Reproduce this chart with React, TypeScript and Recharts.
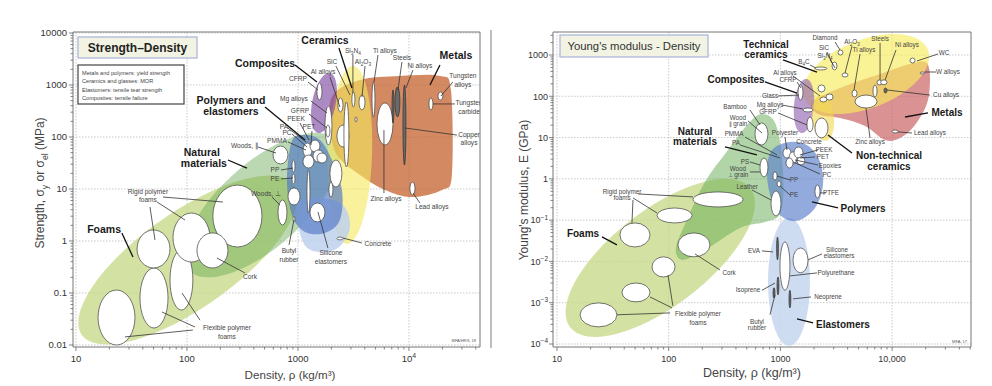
import React from 'react';
import { ScatterChart, Scatter, XAxis, YAxis, CartesianGrid, ReferenceLine } from 'recharts';

type Pt = [number, number];
type Envelope = { name: string; shape: 'ellipse' | 'blob'; pts: Pt[] };
type Bubble = { name: string; x: Pt; y: Pt };
type Label = { text: string; at: Pt };
type Seg = [number, number, number, number];

const FONT = '"Liberation Sans", Arial, Helvetica, sans-serif';

// ================= Strength – Density =================
const sdDecadesX = [10, 100, 1000, 10000];
const sdTickLabelsX = ['10', '100', '1000', '10^{4}'];
const sdDecadesY = [0.01, 0.1, 1, 10, 100, 1000, 10000];
const sdTickLabelsY = ['0.01', '0.1', '1', '10', '100', '1000', '10000'];
const sdRangeX: Pt = [9.4, 43650];
const sdRangeY: Pt = [0.00915, 10450];

const sdEnvelopes: Envelope[] = [
  { name: 'Foams', shape: 'ellipse', pts: [[102, 0.43], [920, 11.9], [57, 2.4]] },
  { name: 'Natural materials', shape: 'ellipse', pts: [[474, 4.9], [2150, 88], [265, 19.5]] },
  { name: 'Metals', shape: 'blob', pts: [[2066, 643], [3615, 1250], [8283, 1489], [19020, 1489], [23880, 802], [24380, 18.6], [19820, 9.57], [10640, 7.01], [6082, 9.57], [3615, 18.6], [2244, 45.1], [1941, 170]] },
  { name: 'Ceramics', shape: 'ellipse', pts: [[2938, 45.1], [3126, 2318], [4645, 45.1]] },
  { name: 'Composites', shape: 'ellipse', pts: [[1714, 451], [1901, 1702], [1337, 451]] },
  { name: 'Elastomers', shape: 'blob', pts: [[979, 4.92], [1514, 6.71], [2543, 4.92], [2938, 1.78], [2291, 0.733], [1514, 0.614], [1110, 0.957]] },
  { name: 'Polymers', shape: 'blob', pts: [[883, 83.8], [1157, 109], [1578, 87.5], [2024, 36.1], [2488, 9.57], [2388, 2.53], [1750, 1.43], [1157, 1.49], [883, 3.16], [796, 14.9]] },
];

const sdBubbles: Bubble[] = [
  { name: 'Flexible polymer foams', x: [15.8, 34], y: [0.01, 0.114] },
  { name: 'Flexible polymer foams', x: [37.7, 67.5], y: [0.0212, 0.303] },
  { name: 'Flexible polymer foams', x: [70.3, 113], y: [0.047, 0.67] },
  { name: 'Rigid polymer foams', x: [35.5, 70.3], y: [0.303, 1.63] },
  { name: 'Rigid polymer foams', x: [74.8, 161], y: [0.394, 3.45] },
  { name: 'Rigid polymer foams', x: [171, 474], y: [0.767, 11.9] },
  { name: 'Cork', x: [123, 234], y: [0.303, 1.43] },
  { name: 'Woods, parallel', x: [596, 813], y: [30.3, 67.1] },
  { name: 'Woods, perpendicular', x: [661, 796], y: [2.03, 6.14] },
  { name: 'PP', x: [883, 940], y: [21, 36] },
  { name: 'PE', x: [883, 940], y: [12.5, 19.5] },
  { name: 'PTFE', x: [813, 1043], y: [4.92, 10.5] },
  { name: 'Ionomers', x: [1206, 1283], y: [3.45, 23.2] },
  { name: 'Butyl rubber', x: [902, 940], y: [2.3, 3.0] },
  { name: 'Silicone elastomers', x: [1283, 1750], y: [2.32, 5.38] },
  { name: 'PMMA', x: [1110, 1337], y: [41.2, 76.7] },
  { name: 'PA', x: [1283, 1578], y: [51.5, 87.5] },
  { name: 'PET', x: [1365, 1714], y: [33, 56.2] },
  { name: 'PC', x: [1110, 1394], y: [25.3, 45.1] },
  { name: 'PEEK', x: [1483, 1824], y: [31.6, 49.2] },
  { name: 'Mg alloys', x: [1750, 2024], y: [70, 394] },
  { name: 'GFRP', x: [1787, 1941], y: [100, 170] },
  { name: 'CFRP', x: [1483, 1645], y: [515, 1092] },
  { name: 'Al alloys', x: [2291, 2543], y: [303, 562] },
  { name: 'Glass', x: [2244, 2877], y: [64, 170] },
  { name: 'Al alloys range', x: [2594, 2877], y: [26.5, 471] },
  { name: 'Si3N4', x: [3062, 3259], y: [377, 733] },
  { name: 'Al2O3', x: [3548, 4018], y: [331, 643] },
  { name: 'SiC', x: [3259, 3401], y: [194, 243] },
  { name: 'Stone', x: [1941, 2488], y: [10.9, 36.1] },
  { name: 'Brick', x: [1901, 2066], y: [7.0, 13.6] },
  { name: 'Concrete', x: [2244, 2543], y: [1.05, 1.19] },
  { name: 'Ti alloys', x: [4645, 4938], y: [243, 1143] },
  { name: 'Zinc alloys', x: [5152, 7180], y: [70.2, 451] },
  { name: 'Tungsten carbide', x: [15140, 16450], y: [331, 562] },
  { name: 'Tungsten alloys', x: [18240, 20240], y: [515, 733] },
  { name: 'Lead alloys', x: [10200, 11330], y: [7.67, 13.6] },
];
const sdDarkBubbles: Bubble[] = [
  { name: 'Steels', x: [7480, 8283], y: [243, 916] },
  { name: 'Cast irons', x: [7037, 7330], y: [186, 802] },
  { name: 'Copper alloys', x: [8830, 9397], y: [28.9, 1000] },
];

const sdGroupLabels: Label[] = [
  { text: 'Ceramics', at: [1750, 7330] },
  { text: 'Metals', at: [26490, 3780] },
  { text: 'Composites', at: [505, 2650] },
  { text: 'Polymers and', at: [249, 515] },
  { text: 'elastomers', at: [249, 316] },
  { text: 'Natural', at: [136, 51.5] },
  { text: 'materials', at: [142, 31.6] },
  { text: 'Foams', at: [17.9, 1.7] },
];
const sdSmallLabels: Label[] = [
  { text: 'Rigid polymer', at: [44.5, 8.75] },
  { text: 'foams', at: [44.5, 6.14] },
  { text: 'Flexible polymer', at: [229, 0.0212] },
  { text: 'foams', at: [229, 0.0143] },
  { text: 'Cork', at: [370, 0.203] },
  { text: 'Woods, ∥', at: [333, 67.1] },
  { text: 'Woods, ⊥', at: [515, 8.01] },
  { text: 'PP', at: [621, 23.2] },
  { text: 'PE', at: [621, 15.6] },
  { text: 'PMMA', at: [647, 83.8] },
  { text: 'PC', at: [796, 119] },
  { text: 'PA', at: [748, 156] },
  { text: 'PEEK', at: [960, 222] },
  { text: 'PET', at: [1256, 156] },
  { text: 'GFRP', at: [1043, 316] },
  { text: 'Mg alloys', at: [920, 538] },
  { text: 'CFRP', at: [1000, 1300] },
  { text: 'Al alloys', at: [1680, 1780] },
  { text: 'SiC', at: [2024, 2770] },
  { text: 'Si_{3}N_{4}', at: [3126, 4510] },
  { text: 'Al_{2}O_{3}', at: [3853, 2770] },
  { text: 'Ti alloys', at: [6070, 4510] },
  { text: 'Steels', at: [8646, 3300] },
  { text: 'Ni alloys', at: [12560, 2320] },
  { text: 'Tungsten', at: [30620, 1490] },
  { text: 'alloys', at: [30620, 1000] },
  { text: 'Tungsten', at: [34750, 451] },
  { text: 'carbide', at: [34750, 303] },
  { text: 'Copper', at: [34750, 109] },
  { text: 'alloys', at: [34750, 76.7] },
  { text: 'Zinc alloys', at: [6207, 6.42] },
  { text: 'Lead alloys', at: [16100, 4.51] },
  { text: 'Concrete', at: [5260, 0.876] },
  { text: 'Silicone', at: [1982, 0.587] },
  { text: 'elastomers', at: [1982, 0.394] },
  { text: 'Butyl', at: [830, 0.643] },
  { text: 'rubber', at: [830, 0.43] },
];
const sdGroupLeaders: Seg[] = [
  [2339, 5150, 3062, 875],
  [19020, 2430, 15460, 1000],
  [940, 2430, 1483, 1143],
  [505, 377, 1157, 87.5],
  [234, 36.1, 347, 25.3],
  [25.9, 1.43, 32.6, 0.492],
];
const sdSmallLeaders: Seg[] = [
  [60.8, 7.01, 211, 5.62],
  [53.7, 5.62, 96, 2.53],
  [46.4, 4.51, 51.5, 1.05],
  [113, 0.0194, 27.6, 0.0143],
  [118, 0.0222, 59.5, 0.0431],
  [131, 0.03, 90.2, 0.1],
  [333, 0.243, 186, 0.471],
  [436, 64.2, 634, 49.2],
  [583, 7.01, 689, 4.92],
  [703, 23.2, 902, 25.3],
  [703, 15.6, 902, 16.3],
  [813, 80.2, 1181, 56.2],
  [883, 114, 1206, 64.2],
  [813, 149, 1181, 80.2],
  [1043, 186, 1256, 87.5],
  [1337, 130, 1309, 70.2],
  [1256, 277, 1824, 149],
  [1309, 492, 1824, 290],
  [1231, 1143, 1514, 802],
  [1941, 1426, 2388, 377],
  [2198, 2320, 2938, 643],
  [3126, 3780, 3126, 702],
  [4018, 2320, 3773, 587],
  [5260, 3780, 4839, 1143],
  [8646, 2770, 7962, 802],
  [10860, 1940, 9397, 875],
  [24880, 1143, 19410, 614],
  [16450, 432, 25940, 432],
  [9188, 149, 27040, 109],
  [5951, 8.37, 5951, 136],
  [12560, 5.38, 10860, 8.37],
  [3773, 0.916, 2543, 1.14],
  [1862, 0.733, 1514, 3.61],
  [830, 0.84, 920, 2.53],
];
const sdNotes = [
  'Metals and polymers: yield strength',
  'Ceramics and glasses: MOR',
  'Elastomers: tensile tear strength',
  'Composites: tensile failure',
];

// ================= Young's modulus – Density =================
const ymDecadesX = [10, 100, 1000, 10000];
const ymTickLabelsX = ['10', '100', '1000', '10,000'];
const ymDecadesY = [0.0001, 0.001, 0.01, 0.1, 1, 10, 100, 1000];
const ymTickLabelsY = ['10^{−4}', '10^{−3}', '10^{−2}', '10^{−1}', '1', '10', '100', '1000'];
const ymRangeX: Pt = [9.21, 50860];
const ymRangeY: Pt = [0.0000846, 3605];

const ymEnvelopes: Envelope[] = [
  { name: 'Foams', shape: 'ellipse', pts: [[84, 0.0122], [534, 0.6], [45, 0.096]] },
  { name: 'Natural materials', shape: 'blob', pts: [[684, 37.3], [914, 20.2], [1055, 1.64], [1012, 0.158], [728, 0.0904], [435, 0.0647], [211, 0.019], [132, 0.0109], [116, 0.0212], [143, 0.0904], [211, 0.841], [340, 5.0], [513, 21.3]] },
  { name: 'Elastomers', shape: 'ellipse', pts: [[1194, 0.0032], [1194, 0.113], [1840, 0.0032]] },
  { name: 'Polymers', shape: 'blob', pts: [[841, 5.0], [1218, 7.8], [1767, 6.3], [2262, 2.6], [2406, 0.71], [2040, 0.197], [1408, 0.096], [991, 0.134], [807, 0.41], [759, 1.64]] },
  { name: 'Metals', shape: 'blob', pts: [[1919, 72.8], [3418, 159], [7801, 347], [17060, 677], [21400, 484], [20960, 81.4], [16030, 20.2], [11780, 9.8], [8649, 8.75], [5725, 19.1], [3418, 29.8], [2171, 37.3]] },
  { name: 'Technical ceramics', shape: 'ellipse', pts: [[5840, 347], [20960, 1320], [4560, 2065]] },
  { name: 'Composites', shape: 'ellipse', pts: [[1626, 58], [1695, 262], [2000, 58]] },
  { name: 'Non-technical ceramics', shape: 'ellipse', pts: [[2406, 29.8], [2307, 107], [3020, 29.8]] },
];

const ymBubbles: Bubble[] = [
  { name: 'Rigid polymer foams', x: [165, 463], y: [0.209, 0.482] },
  { name: 'Rigid polymer foams', x: [78.6, 162], y: [0.0855, 0.197] },
  { name: 'Rigid polymer foams', x: [36.6, 68], y: [0.0224, 0.0855] },
  { name: 'Cork', x: [121, 234], y: [0.0129, 0.049] },
  { name: 'Flexible polymer foams', x: [70.9, 114], y: [0.0042, 0.0129] },
  { name: 'Flexible polymer foams', x: [38.2, 68], y: [0.00105, 0.003] },
  { name: 'Flexible polymer foams', x: [16.1, 34.4], y: [0.00026, 0.00099] },
  { name: 'Bamboo', x: [592, 774], y: [6.6, 22.6] },
  { name: 'Wood perpendicular', x: [657, 774], y: [1.11, 3.2] },
  { name: 'Leather', x: [824, 1012], y: [0.126, 0.51] },
  { name: 'PP', x: [859, 933], y: [0.94, 1.47] },
  { name: 'PE', x: [933, 1012], y: [0.64, 0.89] },
  { name: 'PMMA', x: [1055, 1245], y: [3.2, 5.6] },
  { name: 'PA', x: [1194, 1408], y: [2.3, 4.5] },
  { name: 'PEEK', x: [1324, 1593], y: [3.2, 5.9] },
  { name: 'PC', x: [1122, 1297], y: [1.84, 3.2] },
  { name: 'PET', x: [1408, 1660], y: [2.17, 3.39] },
  { name: 'PTFE', x: [2040, 2262], y: [0.345, 0.71] },
  { name: 'CFRP', x: [1438, 1593], y: [81, 188] },
  { name: 'Mg alloys', x: [1593, 1959], y: [41.7, 52.1] },
  { name: 'GFRP', x: [1730, 1959], y: [13.7, 31.5] },
  { name: 'Concrete', x: [2040, 2668], y: [9.8, 29.8] },
  { name: 'Al alloys', x: [2262, 2612], y: [72.8, 96] },
  { name: 'Glass', x: [2560, 2960], y: [81, 114] },
  { name: 'B4C', x: [2040, 2612], y: [434, 512] },
  { name: 'Diamond', x: [3280, 3630], y: [1000, 1320] },
  { name: 'SiC', x: [2900, 3210], y: [434, 677] },
  { name: 'Al2O3', x: [3560, 4030], y: [293, 366] },
  { name: 'Si3N4', x: [2171, 2508], y: [127, 188] },
  { name: 'Ti alloys', x: [4375, 4853], y: [96, 142] },
  { name: 'Zinc alloys', x: [4658, 7326], y: [52, 107] },
  { name: 'Steels', x: [7326, 8100], y: [188, 248] },
  { name: 'Ni alloys', x: [7900, 9000], y: [190, 250] },
  { name: 'Cast irons', x: [6745, 7326], y: [96, 188] },
  { name: 'WC', x: [14460, 16030], y: [640, 846] },
  { name: 'W alloys', x: [17770, 19710], y: [347, 387] },
  { name: 'Lead alloys', x: [10000, 11300], y: [12.9, 15.3] },
  { name: 'Silicone elastomers', x: [1297, 1767], y: [0.0053, 0.0212] },
  { name: 'Polyurethane', x: [991, 1218], y: [0.002, 0.0297] },
];
const ymDarkBubbles: Bubble[] = [
  { name: 'Cu alloys', x: [8465, 9000], y: [120, 159] },
  { name: 'EVA', x: [925, 960], y: [0.0109, 0.039] },
  { name: 'Isoprene', x: [933, 970], y: [0.00155, 0.0042] },
  { name: 'Neoprene', x: [1194, 1240], y: [0.00075, 0.002] },
  { name: 'Butyl rubber', x: [859, 895], y: [0.0013, 0.0023] },
];

const ymGroupLabels: Label[] = [
  { text: 'Technical', at: [743, 1845] },
  { text: 'ceramics', at: [743, 1028] },
  { text: 'Composites', at: [401, 248] },
  { text: 'Natural', at: [172, 13.7] },
  { text: 'materials', at: [172, 7.82] },
  { text: 'Metals', at: [31030, 39.4] },
  { text: 'Non-technical', at: [9380, 3.58] },
  { text: 'ceramics', at: [9380, 2.0] },
  { text: 'Polymers', at: [5495, 0.187] },
  { text: 'Elastomers', at: [3633, 0.00029] },
  { text: 'Foams', at: [17.1, 0.0463] },
];
const ymSmallLabels: Label[] = [
  { text: 'Diamond', at: [2508, 2581] },
  { text: 'SiC', at: [2457, 1476] },
  { text: 'Si_{3}N_{4}', at: [2508, 946] },
  { text: 'B_{4}C', at: [1626, 677] },
  { text: 'Al_{2}O_{3}', at: [4375, 2065] },
  { text: 'Ti alloys', at: [5601, 1320] },
  { text: 'Steels', at: [7801, 2438] },
  { text: 'Ni alloys', at: [13590, 1746] },
  { text: 'WC', at: [29170, 1118] },
  { text: 'W alloys', at: [31640, 387] },
  { text: 'Cu alloys', at: [30400, 107] },
  { text: 'Lead alloys', at: [21830, 12.9] },
  { text: 'Zinc alloys', at: [6347, 7.82] },
  { text: 'Al alloys', at: [1099, 366] },
  { text: 'CFRP', at: [1169, 248] },
  { text: 'Glass', at: [807, 101] },
  { text: 'Mg alloys', at: [807, 61.6] },
  { text: 'GFRP', at: [774, 41.7] },
  { text: 'Bamboo', at: [392, 55.1] },
  { text: 'Wood', at: [417, 29.8] },
  { text: '∥ grain', at: [417, 21.3] },
  { text: 'PMMA', at: [385, 12.2] },
  { text: 'PA', at: [401, 7.4] },
  { text: 'Polyester', at: [1099, 12.9] },
  { text: 'Concrete', at: [1803, 7.82] },
  { text: 'PS', at: [482, 2.57] },
  { text: 'Wood', at: [417, 1.74] },
  { text: '⊥ grain', at: [417, 1.24] },
  { text: 'Leather', at: [503, 0.637] },
  { text: 'PEEK', at: [2457, 5.01] },
  { text: 'PET', at: [2406, 3.39] },
  { text: 'Epoxies', at: [2780, 2.05] },
  { text: 'PC', at: [2612, 1.24] },
  { text: 'PP', at: [1324, 0.94] },
  { text: 'PE', at: [1324, 0.407] },
  { text: 'PTFE', at: [2838, 0.456] },
  { text: 'Rigid polymer', at: [38.2, 0.482] },
  { text: 'foams', at: [38.2, 0.345] },
  { text: 'Cork', at: [347, 0.00527] },
  { text: 'Flexible polymer', at: [183, 0.000536] },
  { text: 'foams', at: [183, 0.000324] },
  { text: 'EVA', at: [580, 0.018] },
  { text: 'Silicone', at: [3213, 0.019] },
  { text: 'elastomers', at: [3350, 0.0136] },
  { text: 'Polyurethane', at: [3148, 0.00527] },
  { text: 'Isoprene', at: [513, 0.002] },
  { text: 'Neoprene', at: [2668, 0.00138] },
  { text: 'Butyl', at: [617, 0.000343] },
  { text: 'rubber', at: [617, 0.000245] },
];
const ymGroupLeaders: Seg[] = [
  [1055, 757, 2128, 387],
  [728, 222, 1408, 120],
  [319, 5.92, 617, 3.79],
  [3281, 0.197, 1919, 0.276],
  [1959, 0.000324, 1408, 0.000405],
  [25.3, 0.0392, 34.4, 0.0251],
  [13060, 31.5, 20960, 39.4],
  [4375, 4.24, 2668, 11.6],
];
const ymSmallLeaders: Seg[] = [
  [3083, 2065, 3418, 1320],
  [2612, 1183, 2897, 640],
  [2780, 800, 3083, 484],
  [1840, 573, 2084, 484],
  [4375, 1652, 3789, 366],
  [5164, 1057, 4560, 142],
  [7801, 1953, 7801, 248],
  [10840, 1320, 8649, 248],
  [16710, 716, 25760, 1057],
  [19710, 387, 24720, 387],
  [9000, 142, 21830, 107],
  [11300, 13.7, 15070, 12.9],
  [6347, 9.78, 5839, 52.1],
  [1297, 310, 2262, 102],
  [1408, 222, 1528, 159],
  [952, 102, 1468, 107],
  [1033, 61.6, 1593, 49.2],
  [952, 39.4, 1730, 20.2],
  [534, 46.6, 657, 20.2],
  [513, 25.2, 684, 12.9],
  [482, 10.3, 933, 3.79],
  [435, 6.62, 991, 3.21],
  [1099, 10.3, 1146, 5.01],
  [534, 2.57, 657, 2.17],
  [534, 1.47, 657, 1.47],
  [557, 0.538, 824, 0.308],
  [2171, 5.01, 1497, 3.79],
  [2040, 3.39, 1497, 3.21],
  [2171, 2.17, 1351, 2.87],
  [2262, 1.31, 1297, 2.57],
  [1218, 0.94, 933, 1.17],
  [1218, 0.407, 991, 0.673],
  [2262, 0.456, 2560, 0.456],
  [53.1, 0.431, 165, 0.365],
  [47.9, 0.345, 78.6, 0.149],
  [47.9, 0.308, 46.9, 0.0855],
  [288, 0.0062, 172, 0.0152],
  [103, 0.000566, 34.4, 0.00051],
  [107, 0.00075, 68, 0.00138],
  [109, 0.00084, 98.6, 0.0047],
  [684, 0.018, 859, 0.017],
  [1767, 0.0109, 2357, 0.0152],
  [1218, 0.00446, 2128, 0.00527],
  [684, 0.002, 895, 0.003],
  [1297, 0.00124, 1880, 0.00138],
  [807, 0.00051, 895, 0.00155],
];

// ================= styles (kept apart from data) =================
const sdFills: Record<string, [string, number]> = {
  Foams: ['#c6da88', 0.78],
  'Natural materials': ['#64a650', 0.44],
  Metals: ['#c4622e', 0.75],
  Ceramics: ['#f6e860', 0.62],
  Composites: ['#8453a6', 0.68],
  Elastomers: ['#bfd1ef', 0.85],
  Polymers: ['#5479c4', 0.68],
};
const ymFills: Record<string, [string, number]> = {
  Foams: ['#c6da88', 0.78],
  'Natural materials': ['#6aae58', 0.52],
  Elastomers: ['#c5d6f0', 0.85],
  Polymers: ['#5f83cc', 0.68],
  Metals: ['#cc6464', 0.7],
  'Technical ceramics': ['#f8ec5e', 0.65],
  Composites: ['#9060b0', 0.62],
  'Non-technical ceramics': ['#f4d850', 0.6],
};

// ================= helpers =================
function rich(text: string, fs: number) {
  const parts = text.split(/(_\{[^}]*\}|\^\{[^}]*\})/).filter((s) => s.length > 0);
  let cur = 0;
  return parts.map((s, i) => {
    let off = 0;
    let size = fs;
    let body = s;
    if (s.startsWith('_{')) {
      off = fs * 0.3;
      size = fs * 0.72;
      body = s.slice(2, -1);
    } else if (s.startsWith('^{')) {
      off = -fs * 0.42;
      size = fs * 0.72;
      body = s.slice(2, -1);
    }
    const dy = off - cur;
    cur = off;
    return (
      <tspan key={i} dy={dy} fontSize={size}>
        {body}
      </tspan>
    );
  });
}

function withMinors(decades: number[], range: Pt): number[] {
  const out: number[] = [];
  for (const d of decades) {
    for (let k = 1; k <= 9; k++) {
      const v = +(d * k).toPrecision(6);
      if (v >= range[0] && v <= range[1]) out.push(v);
    }
  }
  return out;
}

type XY = { x: number; y: number };

function ellipsePath(pts: XY[]) {
  const [c, a, b] = pts;
  const ax = a.x - c.x, ay = a.y - c.y, bx = b.x - c.x, by = b.y - c.y;
  let d = '';
  const n = 90;
  for (let i = 0; i < n; i++) {
    const t = (i / n) * Math.PI * 2;
    const x = c.x + ax * Math.cos(t) + bx * Math.sin(t);
    const y = c.y + ay * Math.cos(t) + by * Math.sin(t);
    d += (i === 0 ? 'M' : 'L') + x.toFixed(2) + ',' + y.toFixed(2);
  }
  return d + 'Z';
}

function blobPath(pts: XY[]) {
  const n = pts.length;
  let d = `M${pts[0].x},${pts[0].y}`;
  for (let i = 0; i < n; i++) {
    const p0 = pts[(i - 1 + n) % n];
    const p1 = pts[i];
    const p2 = pts[(i + 1) % n];
    const p3 = pts[(i + 2) % n];
    const c1x = p1.x + (p2.x - p0.x) / 6;
    const c1y = p1.y + (p2.y - p0.y) / 6;
    const c2x = p2.x - (p3.x - p1.x) / 6;
    const c2y = p2.y - (p3.y - p1.y) / 6;
    d += `C${c1x.toFixed(2)},${c1y.toFixed(2)} ${c2x.toFixed(2)},${c2y.toFixed(2)} ${p2.x.toFixed(2)},${p2.y.toFixed(2)}`;
  }
  return d + 'Z';
}

const envelopeLine = (shape: 'ellipse' | 'blob', style: [string, number]) => (lp: any) => {
  const pts = lp.points as XY[];
  const d = shape === 'ellipse' ? ellipsePath(pts) : blobPath(pts);
  return <path d={d} fill={style[0]} fillOpacity={style[1]} stroke="none" />;
};

const bubbleLine = (fill: string, stroke: string) => (lp: any) => {
  const pts = lp.points as XY[];
  const out: React.ReactElement[] = [];
  for (let i = 0; i + 1 < pts.length; i += 2) {
    const p = pts[i], q = pts[i + 1];
    out.push(
      <ellipse
        key={i}
        cx={(p.x + q.x) / 2}
        cy={(p.y + q.y) / 2}
        rx={Math.max(Math.abs(q.x - p.x) / 2, 0.6)}
        ry={Math.max(Math.abs(q.y - p.y) / 2, 0.6)}
        fill={fill}
        stroke={stroke}
        strokeWidth={0.75}
      />
    );
  }
  return <g>{out}</g>;
};

const segLine = (stroke: string, width: number) => (lp: any) => {
  const pts = lp.points as XY[];
  const out: React.ReactElement[] = [];
  for (let i = 0; i + 1 < pts.length; i += 2) {
    out.push(<line key={i} x1={pts[i].x} y1={pts[i].y} x2={pts[i + 1].x} y2={pts[i + 1].y} stroke={stroke} strokeWidth={width} />);
  }
  return <g>{out}</g>;
};

const bubblePoints = (bs: Bubble[]) => bs.flatMap((b) => [{ x: b.x[0], y: b.y[0] }, { x: b.x[1], y: b.y[1] }]);
const segPoints = (ss: Seg[]) => ss.flatMap((s) => [{ x: s[0], y: s[1] }, { x: s[2], y: s[3] }]);
const labelPoints = (ls: Label[]) => ls.map((l) => ({ x: l.at[0], y: l.at[1], text: l.text }));

const labelShape = (fs: number, weight: string, color: string) => (p: any) => (
  <text
    x={p.cx}
    y={p.cy + fs * 0.35}
    textAnchor="middle"
    fontSize={fs}
    fontWeight={weight}
    fill={color}
    fontFamily={FONT}
  >
    {rich(p.payload.text, fs)}
  </text>
);

const nothing = () => <g />;

const isDecade = (decades: number[], v: number) => decades.findIndex((d) => Math.abs(v / d - 1) < 1e-6);

const makeXTick = (decades: number[], labels: string[], fs: number) => (t: any) => {
  const v = Number(t.payload.value);
  const i = isDecade(decades, v);
  return (
    <g>
      <line x1={t.x} x2={t.x} y1={t.y} y2={t.y + (i >= 0 ? 4 : 2.5)} stroke="#666" strokeWidth={0.8} />
      {i >= 0 && (
        <text x={t.x} y={t.y + 14.5} textAnchor="middle" fontSize={fs} fill="#333" fontFamily={FONT}>
          {rich(labels[i], fs)}
        </text>
      )}
    </g>
  );
};

const makeYTick = (decades: number[], labels: string[], fs: number, gap: number) => (t: any) => {
  const v = Number(t.payload.value);
  const i = isDecade(decades, v);
  return (
    <g>
      <line x1={t.x - (i >= 0 ? 4 : 2.5)} x2={t.x} y1={t.y} y2={t.y} stroke="#666" strokeWidth={0.8} />
      {i >= 0 && (
        <text x={t.x - gap} y={t.y + fs * 0.36} textAnchor="end" fontSize={fs} fill="#333" fontFamily={FONT}>
          {rich(labels[i], fs)}
        </text>
      )}
    </g>
  );
};

type PlotProps = {
  width: number;
  height: number;
  margin: { top: number; right: number; bottom: number; left: number };
  yAxisWidth: number;
  rangeX: Pt;
  rangeY: Pt;
  decadesX: number[];
  labelsX: string[];
  decadesY: number[];
  labelsY: string[];
  tickFont: number;
  tickGap: number;
  envelopes: Envelope[];
  fills: Record<string, [string, number]>;
  bubbles: Bubble[];
  darkBubbles: Bubble[];
  groupLabels: Label[];
  smallLabels: Label[];
  groupLeaders: Seg[];
  smallLeaders: Seg[];
  groupFont: number;
  smallFont: number;
};

function Plot(p: PlotProps) {
  const xTicks = withMinors(p.decadesX, p.rangeX);
  const yTicks = withMinors(p.decadesY, p.rangeY);
  return (
    <ScatterChart width={p.width} height={p.height} margin={p.margin}>
      <CartesianGrid
        verticalValues={p.decadesX}
        horizontalValues={p.decadesY}
        stroke="#c9c9c9"
        strokeDasharray="1.5 1.5"
      />
      <XAxis
        type="number"
        dataKey="x"
        scale="log"
        domain={p.rangeX}
        allowDataOverflow
        ticks={xTicks}
        interval={0}
        tickLine={false}
        tickSize={0}
        tickMargin={0}
        axisLine={{ stroke: '#777', strokeWidth: 1 }}
        tick={makeXTick(p.decadesX, p.labelsX, p.tickFont)}
        height={30}
      />
      <YAxis
        type="number"
        dataKey="y"
        scale="log"
        domain={p.rangeY}
        allowDataOverflow
        ticks={yTicks}
        interval={0}
        tickLine={false}
        tickSize={0}
        tickMargin={0}
        axisLine={{ stroke: '#777', strokeWidth: 1 }}
        tick={makeYTick(p.decadesY, p.labelsY, p.tickFont, p.tickGap)}
        width={p.yAxisWidth}
      />
      {p.envelopes.map((e) => (
        <Scatter
          key={e.name}
          name={e.name}
          data={e.pts.map(([x, y]) => ({ x, y }))}
          shape={nothing}
          line={envelopeLine(e.shape, p.fills[e.name])}
          isAnimationActive={false}
        />
      ))}
      <Scatter data={bubblePoints(p.bubbles)} shape={nothing} line={bubbleLine('#ffffff', '#4a4a4a')} isAnimationActive={false} />
      <Scatter data={bubblePoints(p.darkBubbles)} shape={nothing} line={bubbleLine('#6a6a6a', '#333333')} isAnimationActive={false} />
      <Scatter data={segPoints(p.smallLeaders)} shape={nothing} line={segLine('#333', 0.8)} isAnimationActive={false} />
      <Scatter data={segPoints(p.groupLeaders)} shape={nothing} line={segLine('#111', 1.3)} isAnimationActive={false} />
      <Scatter data={labelPoints(p.smallLabels)} shape={labelShape(p.smallFont, 'normal', '#444')} isAnimationActive={false} />
      <Scatter data={labelPoints(p.groupLabels)} shape={labelShape(p.groupFont, 'bold', '#1a1a1a')} isAnimationActive={false} />
      <ReferenceLine x={p.rangeX[1]} stroke="#777" strokeWidth={1} ifOverflow="visible" />
      <ReferenceLine y={p.rangeY[1]} stroke="#777" strokeWidth={1} ifOverflow="visible" />
    </ScatterChart>
  );
}

export default function App() {
  return (
    <div style={{ position: 'absolute', left: 0, top: 0, width: 992, height: 386, background: '#fff', overflow: 'hidden' }}>
      <div style={{ position: 'absolute', left: 0, top: 0 }}>
        <Plot
          width={490}
          height={386}
          margin={{ top: 32, right: 10, bottom: 9, left: 13 }}
          yAxisWidth={60}
          rangeX={sdRangeX}
          rangeY={sdRangeY}
          decadesX={sdDecadesX}
          labelsX={sdTickLabelsX}
          decadesY={sdDecadesY}
          labelsY={sdTickLabelsY}
          tickFont={9.5}
          tickGap={6}
          envelopes={sdEnvelopes}
          fills={sdFills}
          bubbles={sdBubbles}
          darkBubbles={sdDarkBubbles}
          groupLabels={sdGroupLabels}
          smallLabels={sdSmallLabels}
          groupLeaders={sdGroupLeaders}
          smallLeaders={sdSmallLeaders}
          groupFont={10.5}
          smallFont={6.6}
        />
      </div>
      <div style={{ position: 'absolute', left: 492, top: 0 }}>
        <Plot
          width={500}
          height={386}
          margin={{ top: 32, right: 21, bottom: 9, left: 11 }}
          yAxisWidth={50}
          rangeX={ymRangeX}
          rangeY={ymRangeY}
          decadesX={ymDecadesX}
          labelsX={ymTickLabelsX}
          decadesY={ymDecadesY}
          labelsY={ymTickLabelsY}
          tickFont={9}
          tickGap={5}
          envelopes={ymEnvelopes}
          fills={ymFills}
          bubbles={ymBubbles}
          darkBubbles={ymDarkBubbles}
          groupLabels={ymGroupLabels}
          smallLabels={ymSmallLabels}
          groupLeaders={ymGroupLeaders}
          smallLeaders={ymSmallLeaders}
          groupFont={10}
          smallFont={6.3}
        />
      </div>
      <svg width={992} height={386} style={{ position: 'absolute', left: 0, top: 0, pointerEvents: 'none' }} fontFamily={FONT}>
        <line x1={491} y1={30} x2={491} y2={348} stroke="#a8a8a8" strokeWidth={1.5} />
        <rect x={78} y={37} width={119} height={21} fill="#f2f3e3" stroke="#a7b2d6" strokeWidth={1.2} />
        <text x={137.5} y={52} textAnchor="middle" fontSize={12} fontWeight="bold" fill="#222">Strength–Density</text>
        <rect x={78} y={65} width={106} height={39} fill="#ffffff" stroke="#444" strokeWidth={1.2} />
        {sdNotes.map((t, i) => (
          <text key={i} x={82} y={74.5 + i * 8.5} fontSize={5.6} fill="#444">{t}</text>
        ))}
        <text transform="translate(44,183) rotate(-90)" textAnchor="middle" fontSize={12} fill="#444">
          {rich('Strength, σ_{y} or σ_{el} (MPa)', 12)}
        </text>
        <text x={290} y={379} textAnchor="middle" fontSize={11.6} fill="#444">Density, ρ  (kg/m³)</text>
        <text x={476} y={342} textAnchor="end" fontSize={4} fill="#555">MFA/HRS, 18</text>
        <rect x={560} y={35} width={148} height={22} fill="#f2f3e3" stroke="#a7b2d6" strokeWidth={1.2} />
        <text x={634} y={50} textAnchor="middle" fontSize={11.3} fill="#333">Young's modulus - Density</text>
        <text transform="translate(528,190) rotate(-90)" textAnchor="middle" fontSize={12} fill="#444">Young's modulus, E (GPa)</text>
        <text x={752} y={377} textAnchor="middle" fontSize={12.5} fill="#444">Density, ρ  (kg/m³)</text>
        <text x={967} y={343} textAnchor="end" fontSize={4} fill="#555">MFA, 17</text>
      </svg>
    </div>
  );
}
